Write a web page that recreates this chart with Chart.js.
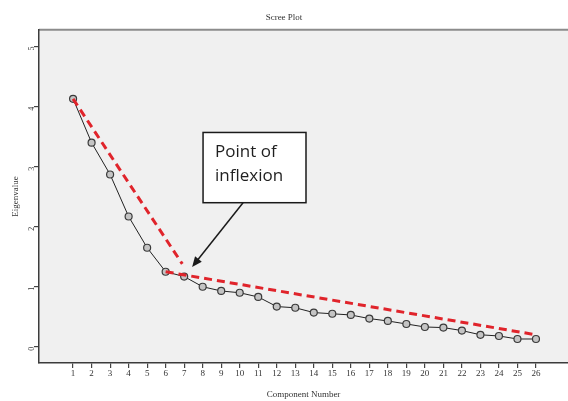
<!DOCTYPE html>
<html>
<head>
<meta charset="utf-8">
<script src="https://cdn.jsdelivr.net/npm/chart.js@4/dist/chart.umd.min.js"></script>
<style>
  html, body { margin: 0; padding: 0; background: #fff; overflow: hidden; }
  #wrap { width: 568px; height: 401px; }
</style>
</head>
<body>
<div id="wrap"><canvas id="chart"></canvas></div>
<script>
// component numbers and eigenvalues
const components = [1, 2, 3, 4, 5, 6, 7, 8, 9, 10, 11, 12, 13, 14, 15, 16, 17, 18, 19, 20, 21, 22, 23, 24, 25, 26];
const eigenvalues = [4.13, 3.40, 2.87, 2.17, 1.65, 1.25, 1.17, 1.00, 0.93, 0.90, 0.83, 0.67, 0.65, 0.57, 0.55, 0.53, 0.47, 0.43, 0.38, 0.33, 0.32, 0.27, 0.20, 0.18, 0.13, 0.13];
const yTicks = [0, 1, 2, 3, 4, 5];

// the two hand drawn red dashed trend lines (data units)
const steepX = [1, 6.9];
const steepY = [4.13, 1.38];
const flatX = [6, 26];
const flatY = [1.25, 0.2];

// callout text and where it sits (data units)
const calloutLines = ["Point of", "inflexion"];
const calloutBox = { x0: 8.02, x1: 13.58, y0: 3.57, y1: 2.4 };
const calloutArrow = { fromX: 10.18, fromY: 2.4, toX: 7.43, toY: 1.33 };

const serif = "'Liberation Serif', 'DejaVu Serif', serif";

const toPoints = (xs, ys) => xs.map((x, i) => ({ x: x, y: ys[i] }));

const plotFrame = {
  id: "plotFrame",
  beforeDraw(chart) {
    const { ctx, chartArea: a } = chart;
    ctx.save();
    ctx.fillStyle = "#f0f0f0";
    ctx.fillRect(a.left, a.top, a.right - a.left, a.bottom - a.top);
    ctx.strokeStyle = "#8c8c8c";
    ctx.lineWidth = 2;
    ctx.beginPath();
    ctx.moveTo(a.left, a.top);
    ctx.lineTo(a.right, a.top);
    ctx.stroke();
    ctx.restore();
  },
};

const callout = {
  id: "callout",
  afterDatasetsDraw(chart) {
    const ctx = chart.ctx;
    const xs = chart.scales.x;
    const ys = chart.scales.y;
    const left = xs.getPixelForValue(calloutBox.x0);
    const right = xs.getPixelForValue(calloutBox.x1);
    const top = ys.getPixelForValue(calloutBox.y0);
    const bottom = ys.getPixelForValue(calloutBox.y1);

    ctx.save();
    ctx.fillStyle = "#ffffff";
    ctx.fillRect(left, top, right - left, bottom - top);
    ctx.strokeStyle = "#1a1a1a";
    ctx.lineWidth = 1.5;
    ctx.strokeRect(left, top, right - left, bottom - top);

    ctx.fillStyle = "#1f1f1f";
    ctx.font = "500 17px 'Open Sans', 'Noto Sans', sans-serif";
    ctx.textBaseline = "middle";
    ctx.textAlign = "left";
    ctx.fillText(calloutLines[0], left + 12, top + 20);
    ctx.fillText(calloutLines[1], left + 12, top + 44);

    // arrow
    const fx = xs.getPixelForValue(calloutArrow.fromX);
    const fy = ys.getPixelForValue(calloutArrow.fromY);
    const tx = xs.getPixelForValue(calloutArrow.toX);
    const ty = ys.getPixelForValue(calloutArrow.toY);
    const ang = Math.atan2(ty - fy, tx - fx);
    const head = 11;
    ctx.strokeStyle = "#1a1a1a";
    ctx.lineWidth = 1.5;
    ctx.beginPath();
    ctx.moveTo(fx, fy);
    ctx.lineTo(tx - Math.cos(ang) * head * 0.8, ty - Math.sin(ang) * head * 0.8);
    ctx.stroke();
    ctx.fillStyle = "#1a1a1a";
    ctx.beginPath();
    ctx.moveTo(tx, ty);
    ctx.lineTo(tx - head * Math.cos(ang - 0.4), ty - head * Math.sin(ang - 0.4));
    ctx.lineTo(tx - head * Math.cos(ang + 0.4), ty - head * Math.sin(ang + 0.4));
    ctx.closePath();
    ctx.fill();
    ctx.restore();
  },
};

new Chart(document.getElementById("chart"), {
  type: "line",
  data: {
    datasets: [
      {
        data: toPoints(steepX, steepY),
        borderColor: "#e0242b",
        borderWidth: 3,
        borderDash: [8, 5],
        pointRadius: 0,
        order: 0,
      },
      {
        data: toPoints(flatX, flatY),
        borderColor: "#e0242b",
        borderWidth: 3,
        borderDash: [8, 5],
        pointRadius: 0,
        order: 0,
      },
      {
        data: toPoints(components, eigenvalues),
        borderColor: "#222222",
        borderWidth: 1,
        pointRadius: 3.5,
        pointBorderWidth: 1.2,
        pointBorderColor: "#3a3a3a",
        pointBackgroundColor: "#c4c4c4",
        order: 1,
      },
    ],
  },
  options: {
    responsive: true,
    maintainAspectRatio: false,
    animation: false,
    layout: { padding: 0, autoPadding: false },
    plugins: {
      legend: { display: false },
      tooltip: { enabled: false },
      title: {
        display: true,
        text: "Scree Plot",
        color: "#333",
        font: { family: serif, size: 9, weight: "normal" },
        padding: { top: 12, bottom: 7 },
      },
    },
    scales: {
      x: {
        type: "linear",
        min: -0.84,
        max: 27.73,
        afterBuildTicks: (scale) => {
          scale.ticks = components.map((v) => ({ value: v }));
        },
        afterFit: (scale) => {
          scale.height = 38;
          scale.paddingLeft = 0;
          scale.paddingRight = 0;
        },
        grid: { drawOnChartArea: false, drawTicks: true, tickLength: 5, color: "#444", lineWidth: 1.2 },
        border: { display: true, color: "#3c3c3c", width: 1.5 },
        ticks: {
          color: "#333",
          font: { family: serif, size: 9 },
          padding: 0,
          autoSkip: false,
          maxRotation: 0,
        },
        title: {
          display: true,
          text: "Component Number",
          color: "#333",
          font: { family: serif, size: 9 },
          padding: { top: 0, bottom: 1 },
        },
      },
      y: {
        min: -0.27,
        max: 5.28,
        afterBuildTicks: (scale) => {
          scale.ticks = yTicks.map((v) => ({ value: v }));
        },
        afterFit: (scale) => {
          scale.width = 39;
          scale.paddingTop = 0;
          scale.paddingBottom = 0;
        },
        grid: { drawOnChartArea: false, drawTicks: true, tickLength: 5, color: "#444", lineWidth: 1.2 },
        border: { display: true, color: "#3c3c3c", width: 1.5 },
        ticks: {
          color: "#333",
          font: { family: serif, size: 8 },
          padding: 2,
          minRotation: 90,
          maxRotation: 90,
        },
        title: {
          display: true,
          text: "Eigenvalue",
          color: "#333",
          font: { family: serif, size: 9 },
          padding: { top: 10, bottom: 0 },
        },
      },
    },
  },
  plugins: [plotFrame, callout],
});
</script>
</body>
</html>
